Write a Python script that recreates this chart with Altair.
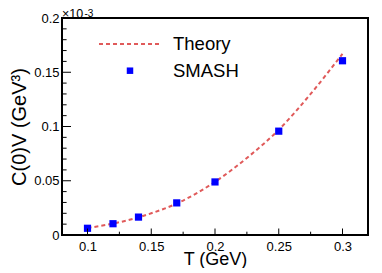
import altair as alt
import pandas as pd

# SMASH points (C(0)V in units of 1e-3 GeV^3)
T_smash = [0.10, 0.12, 0.14, 0.17, 0.20, 0.25, 0.30]
C_smash = [0.0062, 0.0104, 0.0165, 0.0296, 0.0489, 0.0957, 0.1606]

# Theory curve
T_theory = [0.10, 0.12, 0.14, 0.15, 0.17, 0.20, 0.225, 0.25, 0.275, 0.30]
C_theory = [0.0065, 0.0105, 0.0163, 0.0200, 0.0290, 0.0490, 0.0710, 0.0970, 0.1300, 0.1670]

x_major = [0.1, 0.15, 0.2, 0.25, 0.3]
x_minor = [0.125, 0.175, 0.225, 0.275]
y_major = [0, 0.05, 0.1, 0.15, 0.2]
y_minor = [0.01, 0.02, 0.03, 0.04, 0.06, 0.07, 0.08, 0.09,
           0.11, 0.12, 0.13, 0.14, 0.16, 0.17, 0.18, 0.19]

legend_labels = ["Theory", "SMASH"]

FONT = "Liberation Sans"
RED = "#e05a5a"
BLUE = "#0000ff"
W, H = 306, 217

xs = alt.Scale(domain=[0.08, 0.32], nice=False, zero=False)
ys = alt.Scale(domain=[0, 0.2], nice=False, zero=False)

df_s = pd.DataFrame({"T": T_smash, "C": C_smash})
df_t = pd.DataFrame({"T": T_theory, "C": C_theory})

x_axis = alt.Axis(values=x_major, format="~g", ticks=False, grid=False, domain=False,
                  labelFontSize=13, labelPadding=5, labelFont=FONT, labelColor="black",
                  title="T (GeV)", titleFont=FONT, titleFontSize=18, titleFontWeight="normal",
                  titleColor="black", titleBaseline="alphabetic", titleY=29)
y_axis = alt.Axis(values=y_major, format="~g", ticks=False, grid=False, domain=False,
                  labelFontSize=13, labelPadding=3, labelFont=FONT, labelColor="black",
                  title="C(0)V (GeV³)", titleFont=FONT, titleFontSize=20, titleFontWeight="normal",
                  titleColor="black", titleBaseline="alphabetic", titleX=-37)


def X(field):
    return alt.X(field, scale=xs, axis=x_axis)


def Y(field):
    return alt.Y(field, scale=ys, axis=y_axis)


theory = alt.Chart(df_t).mark_line(color=RED, strokeWidth=2, strokeDash=[4, 3],
                                   interpolate="monotone").encode(
    x=X("T:Q"), y=Y("C:Q"))
points = alt.Chart(df_s).mark_square(size=52, color=BLUE, opacity=1).encode(
    x=X("T:Q"), y=Y("C:Q"))

ymaj = alt.Chart(pd.DataFrame({"C": y_major})).mark_rule(color="black", strokeWidth=1).encode(
    y=Y("C:Q"), x=alt.value(0), x2=alt.value(9))
ymin = alt.Chart(pd.DataFrame({"C": y_minor})).mark_rule(color="black", strokeWidth=1).encode(
    y=Y("C:Q"), x=alt.value(0), x2=alt.value(4.6))
xmaj = alt.Chart(pd.DataFrame({"T": x_major})).mark_rule(color="black", strokeWidth=1).encode(
    x=X("T:Q"), y=alt.value(H), y2=alt.value(H - 6.5))
xmin = alt.Chart(pd.DataFrame({"T": x_minor})).mark_rule(color="black", strokeWidth=1).encode(
    x=X("T:Q"), y=alt.value(H), y2=alt.value(H - 3.3))

one = pd.DataFrame({"k": [0]})
leg_line = alt.Chart(one).mark_rule(color=RED, strokeWidth=2, strokeDash=[4, 3]).encode(
    x=alt.value(37), x2=alt.value(99), y=alt.value(26))
leg_sq = alt.Chart(one).mark_square(size=42, color=BLUE, opacity=1).encode(
    x=alt.value(68), y=alt.value(52.7))
leg_t1 = alt.Chart(pd.DataFrame({"label": [legend_labels[0]]})).mark_text(
    align="left", baseline="alphabetic", font=FONT, fontSize=18.5, color="black").encode(
    x=alt.value(111), y=alt.value(32), text="label:N")
leg_t2 = alt.Chart(pd.DataFrame({"label": [legend_labels[1]]})).mark_text(
    align="left", baseline="alphabetic", font=FONT, fontSize=18.5, color="black").encode(
    x=alt.value(111), y=alt.value(59), text="label:N")

exp_main = alt.Chart(pd.DataFrame({"t": ["×10"]})).mark_text(
    align="left", baseline="alphabetic", font=FONT, fontSize=12.5, color="black").encode(
    x=alt.value(0), y=alt.value(-0.5), text="t:N")
exp_sup = alt.Chart(pd.DataFrame({"t": ["-3"]})).mark_text(
    align="left", baseline="top", font=FONT, fontSize=10, color="black").encode(
    x=alt.value(22.5), y=alt.value(-9.5), text="t:N")

chart = alt.layer(theory, points, ymaj, ymin, xmaj, xmin,
                  leg_line, leg_sq, leg_t1, leg_t2, exp_main, exp_sup).properties(
    width=W, height=H,
    autosize=alt.AutoSizeParams(type="none"),
    padding={"left": 54, "top": 10, "right": 6, "bottom": 33},
    background="white",
).configure_view(stroke="black", strokeWidth=2)

chart.save("out.html", embed_options={"renderer": "svg", "actions": False})
